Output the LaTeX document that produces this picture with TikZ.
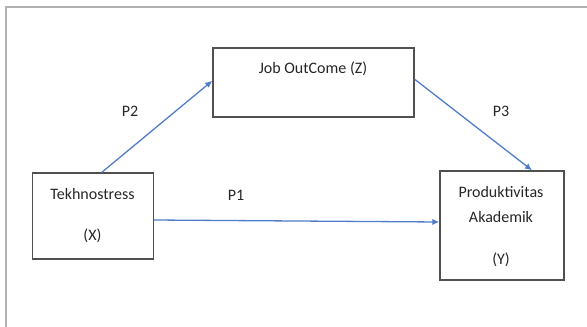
\documentclass[tikz,border=0pt]{standalone}
\usepackage{fontspec}
\setmainfont{Carlito}
\usetikzlibrary{arrows.meta}
\definecolor{pathblue}{RGB}{82,124,200}
\definecolor{boxgray}{RGB}{80,80,80}

\tikzset{
  box/.style={draw=boxgray, line width=1.4pt, inner sep=0pt},
  lbl/.style={font=\fontsize{16}{18}\selectfont, text=black!85, inner sep=0pt},
  path/.style={draw=pathblue, line width=1.3pt, -{Latex[length=7pt,width=6.5pt]}}
}

\begin{document}
\begin{tikzpicture}[x=1pt,y=-1pt]
  \useasboundingbox (0,0) rectangle (587,327);
  % outer frame
  \draw[gray!60, line width=1.2pt] (6,327) -- (6,7) -- (587,7);

  % variables
  \node[box, minimum width=121pt, minimum height=86pt] (tek) at (92.8,216) {};
  \node[box, minimum width=201pt, minimum height=69pt] (job) at (313.5,82.3) {};
  \node[box, minimum width=124pt, minimum height=109pt] (prod) at (502,225.5) {};

  \node[lbl] (tekA) at (92.5,194) {Tekhnostress};
  \node[lbl] (tekB) at (92.5,236) {(X)};
  \node[lbl] (jobA) at (313,68.5) {Job OutCome (Z)};
  \node[lbl] (prodA) at (501,192) {Produktivitas};
  \node[lbl] (prodB) at (501,217) {Akademik};
  \node[lbl] (prodC) at (501,259.5) {(Y)};

  % paths
  \draw[path] ([xshift=9pt]tek.north) -- ([yshift=1.5pt]job.west);
  \draw[path] ([yshift=3pt]job.east) -- ([xshift=30pt]prod.north);
  \draw[path] ([yshift=-4pt]tek.east) -- ([yshift=3.5pt]prod.west);

  \foreach \name/\pos/\txt in {pA/{(130,111)}/P2, pB/{(501,111)}/P3, pC/{(236,195)}/P1}
    \node[lbl] (\name) at \pos {\txt};
\end{tikzpicture}
\end{document}
